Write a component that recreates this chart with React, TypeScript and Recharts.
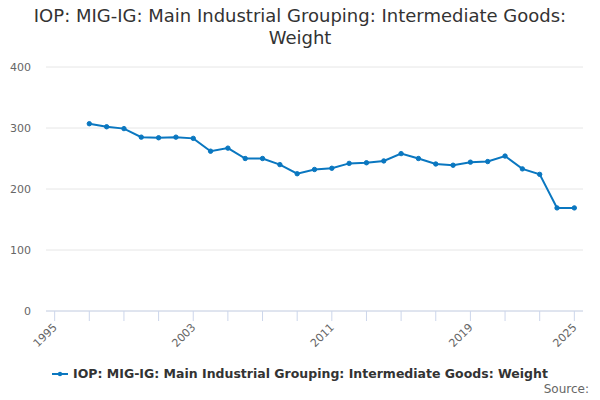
import React from 'react';
import { LineChart, Line, XAxis, YAxis, CartesianGrid } from 'recharts';

const years = [
  1997, 1998, 1999, 2000, 2001, 2002, 2003, 2004, 2005, 2006, 2007, 2008, 2009, 2010, 2011,
  2012, 2013, 2014, 2015, 2016, 2017, 2018, 2019, 2020, 2021, 2022, 2023, 2024, 2025,
];
const weights = [
  307, 302, 299, 285, 284, 285, 283, 262, 267, 250, 250, 240, 225, 232, 234,
  242, 243, 246, 258, 250, 241, 239, 244, 245, 254, 233, 224, 169, 169,
];
const xTicks = [1995, 1997, 1999, 2001, 2003, 2005, 2007, 2009, 2011, 2013, 2015, 2017, 2019, 2021, 2023, 2025];
const xLabels = [1995, 2003, 2011, 2019, 2025];
const yTicks = [0, 100, 200, 300, 400];

const seriesName = 'IOP: MIG-IG: Main Industrial Grouping: Intermediate Goods: Weight';
const titleLines = ['IOP: MIG-IG: Main Industrial Grouping: Intermediate Goods:', 'Weight'];

const chartData = years.map((year, i) => ({ year, weight: weights[i] }));

const FONT = '"DejaVu Sans", Verdana, sans-serif';
const LINE_COLOR = '#0a77c0';

// tick marks every 2 years, labels only on a few of them
const XTick = (props: any) => {
  const { x, y, payload } = props;
  const lx = x + 3;
  const ly = y + 17;
  return (
    <g>
      <line x1={x} y1={y} x2={x} y2={y + 10} stroke="#ccd6eb" />
      {xLabels.includes(payload.value) && (
        <text
          x={lx}
          y={ly}
          textAnchor="end"
          transform={`rotate(-45, ${lx}, ${ly})`}
          fontSize={11}
          fill="#666"
          fontFamily={FONT}
        >
          {payload.value}
        </text>
      )}
    </g>
  );
};

export default function App() {
  return (
    <div style={{ position: 'absolute', left: 0, top: 0, width: 600, height: 400, fontFamily: FONT, background: '#fff' }}>
      <div style={{ position: 'absolute', top: 5, left: 0, width: 600, textAlign: 'center', fontSize: 18, lineHeight: '22px', color: '#333' }}>
        {titleLines.map((t) => (
          <div key={t}>{t}</div>
        ))}
      </div>

      <LineChart width={600} height={400} data={chartData} margin={{ top: 67, right: 17, left: 0, bottom: 59 }}>
        <CartesianGrid horizontal vertical={false} stroke="#e6e6e6" />
        <XAxis
          dataKey="year"
          type="number"
          domain={[1994.5, 2025.5]}
          ticks={xTicks}
          interval={0}
          height={30}
          tickSize={0}
          tickMargin={0}
          tickLine={false}
          axisLine={{ stroke: '#ccd6eb' }}
          tick={<XTick />}
        />
        <YAxis
          domain={[0, 400]}
          ticks={yTicks}
          width={46}
          axisLine={false}
          tickLine={false}
          tickSize={0}
          tickMargin={15}
          tick={{ fontSize: 11, fill: '#666', fontFamily: FONT }}
        />
        <Line
          type="linear"
          dataKey="weight"
          name={seriesName}
          stroke={LINE_COLOR}
          strokeWidth={2}
          dot={{ r: 2.2, fill: LINE_COLOR, stroke: LINE_COLOR, strokeWidth: 1 }}
          isAnimationActive={false}
        />
      </LineChart>

      <div style={{ position: 'absolute', top: 366, left: 0, width: 600, display: 'flex', justifyContent: 'center', alignItems: 'center' }}>
        <svg width={16} height={12} style={{ marginRight: 5 }}>
          <line x1={0} y1={6} x2={16} y2={6} stroke={LINE_COLOR} strokeWidth={2} />
          <circle cx={8} cy={6} r={2.2} fill={LINE_COLOR} />
        </svg>
        <span style={{ fontSize: 12.5, fontWeight: 'bold', color: '#333' }}>{seriesName}</span>
      </div>

      <div style={{ position: 'absolute', top: 382, right: 11, fontSize: 12, color: '#666' }}>Source:</div>
    </div>
  );
}
